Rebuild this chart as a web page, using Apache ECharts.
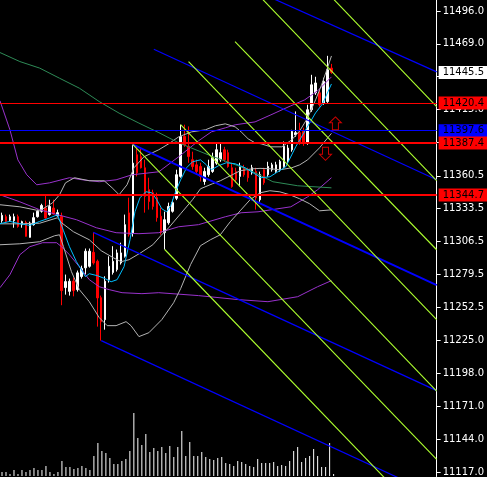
<!DOCTYPE html>
<html><head><meta charset="utf-8">
<script src="https://cdn.jsdelivr.net/npm/echarts@6/dist/echarts.min.js"></script>
<style>html,body{margin:0;padding:0;background:#000;overflow:hidden}#c{width:487px;height:477px}</style>
</head><body><div id="c"></div>
<script>
// ---- data ----
const barCount = 110; // slots on the time axis (incl. right shift)
const categories = Array.from({length: barCount}, (_, i) => String(i));

const opens=[11323.6,11326.9,11324.0,11323.6,11326.9,11320.3,11322.2,11309.9,11320.3,11326.9,
11331.3,11334.0,11328.6,11334.0,11327.7,11327.2,11268.6,11265.5,11273.8,11266.9,
11277.7,11284.8,11286.1,11297.6,11290.2,11260.3,11242.2,11275.2,11281.0,11283.4,
11288.9,11294.3,11330.0,11313.5,11377.8,11376.4,11367.1,11349.1,11346.6,11342.5,
11327.2,11313.8,11321.9,11331.3,11342.0,11360.0,11392.8,11384.7,11373.7,11369.5,
11368.1,11355.8,11361.4,11364.1,11370.9,11373.7,11381.9,11379.5,11367.1,11364.1,
11360.0,11367.1,11365.5,11362.9,11364.1,11340.8,11365.5,11361.4,11365.5,11364.1,
11365.5,11368.1,11372.3,11381.9,11394.2,11395.9,11396.9,11387.4,11414.8,11428.7,
11428.7,11420.3,11421.5,11449.0];
const closes=[11328.0,11323.0,11326.9,11326.9,11318.9,11322.8,11310.7,11321.7,11326.1,11331.3,
11336.1,11325.8,11335.3,11329.1,11330.2,11266.1,11273.5,11273.8,11266.1,11280.7,
11284.3,11298.5,11298.5,11288.9,11260.1,11240.6,11273.8,11286.1,11290.2,11297.1,
11297.1,11320.3,11312.1,11370.9,11362.9,11367.1,11343.6,11339.4,11335.3,11326.1,
11313.8,11324.4,11335.3,11338.4,11361.4,11392.8,11386.0,11376.4,11368.1,11364.1,
11360.0,11364.1,11368.1,11375.3,11381.9,11379.5,11373.7,11368.1,11351.7,11357.3,
11368.1,11361.4,11358.9,11367.1,11342.2,11361.4,11354.8,11368.1,11369.5,11369.5,
11372.3,11384.7,11383.3,11396.9,11395.9,11387.4,11387.4,11414.8,11435.3,11436.8,
11418.9,11438.0,11447.6,11445.5];
const highs=[11330.2,11328.6,11328.6,11329.4,11328.6,11323.6,11323.6,11322.8,11330.2,11332.7,
11337.5,11345.0,11340.8,11340.8,11332.7,11330.2,11279.3,11276.0,11276.8,11282.6,
11286.6,11300.7,11300.7,11314.0,11291.6,11262.0,11277.9,11294.3,11302.6,11299.9,
11305.5,11328.6,11342.5,11386.1,11383.6,11383.6,11373.7,11358.9,11349.1,11346.6,
11334.3,11331.0,11338.4,11340.8,11365.5,11402.5,11402.5,11401.1,11380.3,11373.7,
11371.2,11367.1,11373.7,11379.5,11387.6,11387.6,11384.3,11381.9,11371.2,11367.1,
11371.2,11369.5,11367.1,11369.5,11367.1,11363.9,11367.1,11372.0,11371.2,11372.0,
11373.7,11388.7,11386.0,11398.3,11413.4,11404.1,11400.0,11418.9,11443.5,11441.9,
11431.2,11441.1,11459.1,11452.5];
const lows=[11321.9,11321.9,11322.8,11317.8,11317.8,11317.8,11310.5,11309.7,11319.5,11326.1,
11330.2,11325.3,11327.7,11328.6,11326.9,11254.1,11262.8,11262.0,11261.4,11265.3,
11276.0,11279.3,11285.0,11287.5,11236.5,11225.0,11234.0,11272.7,11279.3,11281.8,
11287.5,11293.3,11310.5,11310.5,11360.0,11366.5,11330.2,11332.7,11332.7,11322.8,
11312.1,11299.9,11320.3,11330.2,11340.5,11358.9,11384.3,11371.2,11365.5,11361.4,
11355.8,11353.1,11359.7,11362.9,11369.5,11372.0,11372.0,11367.1,11350.7,11354.8,
11351.7,11359.7,11355.6,11361.4,11332.7,11339.2,11353.1,11359.7,11363.9,11362.9,
11363.9,11367.1,11371.2,11380.3,11392.6,11386.0,11385.1,11386.0,11413.1,11427.0,
11417.3,11418.9,11420.4,11444.3];
const volumes=[40,40,20,60,20,60,40,60,80,60,60,100,40,20,40,150,90,90,70,80,
100,80,60,200,330,250,230,180,120,120,150,170,250,630,380,310,420,240,280,250,
290,230,300,190,290,450,200,340,200,200,240,190,170,160,180,190,130,120,100,150,
140,120,100,90,170,130,130,130,140,100,110,100,150,250,290,140,180,200,270,200,
90,90,330,20];

// indicator lines: [bar index, price]
const maGreen=[[-0.5,11461.8],[4.5,11454.4],[9.5,11449.0],[14.5,11440.7],[19.5,11432.5],[24.5,11421.5],[29.5,11412.0],[34.5,11403.8],[39.5,11396.0],[44.5,11387.6],[52,11377.7],[59.5,11368.7],[63.25,11363.8],[68.25,11355.6],[74.5,11352.3],[83,11350.6]];
const maCyan=[[-0.5,11321.1],[2,11323.0],[4.5,11321.1],[7,11319.7],[9.5,11323.0],[12,11325.8],[14,11328.5],[15.5,11315.3],[17,11302.2],[18.75,11289.9],[20,11283.3],[21,11277.6],[22,11280.0],[24,11278.4],[26,11275.9],[27.5,11273.4],[29,11275.1],[30.75,11285.8],[32.25,11307.9],[33.5,11330.9],[34.75,11342.4],[36.25,11347.4],[37.75,11346.5],[39,11340.8],[40.25,11333.4],[41.5,11330.9],[42.5,11335.9],[43.75,11347.4],[45,11357.2],[46.5,11367.1],[48,11372.0],[50,11373.6],[51.5,11369.5],[52.75,11365.4],[54.5,11368.7],[56.5,11371.2],[58.75,11370.4],[61.25,11367.1],[63.25,11363.0],[65.25,11358.9],[67.5,11359.7],[69.5,11363.8],[71.5,11367.9],[74,11384.3],[76.5,11398.3],[79,11412.2],[80.75,11419.6],[83,11436.0]];
const bbUpper=[[-0.5,11336.7],[4.5,11335.0],[9.5,11331.7],[12.75,11338.3],[14.5,11344.9],[16,11354.7],[18.25,11358.9],[22,11356.4],[25.75,11356.4],[27.75,11350.6],[29.5,11344.9],[31.5,11353.1],[33.25,11367.1],[35.75,11376.1],[39.5,11381.9],[42,11386.8],[44.5,11392.5],[47.75,11396.6],[51.25,11398.3],[53.75,11401.6],[56.25,11403.2],[58.75,11400.7],[60.25,11396.6],[62,11390.9],[63.75,11387.6],[65.25,11386.8],[67.75,11384.3],[70.5,11384.3],[73,11390.1],[75,11397.4],[77,11408.1],[79,11422.9],[80.5,11435.2],[82,11449.2],[83,11459.0]];
const bbMiddle=[[-0.5,11321.0],[4.5,11321.0],[9.5,11321.5],[14,11326.0],[15,11321.9],[18,11314.5],[22,11307.9],[25,11298.9],[28,11293.2],[30,11289.9],[32,11291.5],[35,11297.3],[38,11303.8],[40,11311.2],[42,11317.8],[45,11329.3],[48,11340.8],[50,11349.8],[53,11353.9],[55,11356.4],[58,11361.3],[60,11364.6],[63,11366.2],[65,11366.6],[68,11366.2],[70,11365.4],[73,11367.1],[75,11369.5],[77,11373.6],[80,11383.5],[83,11395.4]];
const bbLower=[[-0.5,11303.8],[4.5,11304.6],[9.5,11306.3],[13.25,11311.2],[14.5,11312.0],[15.5,11302.2],[17.5,11281.7],[19.5,11266.9],[22,11257.0],[24.5,11243.9],[26.5,11237.3],[28.75,11237.3],[31.25,11240.6],[32.5,11237.3],[34.5,11228.3],[37,11231.5],[40.25,11242.2],[43.25,11256.2],[45,11267.7],[47.5,11287.4],[50,11303.0],[52.5,11307.9],[55,11312.0],[57.5,11322.7],[60,11331.7],[62.5,11340.8],[65,11346.5],[67.5,11348.2],[70,11347.3],[72.5,11344.9],[75,11341.6],[77.5,11337.5],[80,11331.7],[83,11332.5]];
const bb2Upper=[[-0.5,11422.1],[2,11398.3],[4,11373.6],[6.25,11361.3],[8.75,11353.1],[12,11354.7],[17,11358.9],[20.25,11357.2],[24.5,11355.6],[28.75,11357.2],[32.75,11361.3],[39.5,11363.8],[44.5,11376.1],[49.5,11389.2],[52.75,11396.6],[56.25,11399.9],[58.75,11402.4],[63.75,11404.8],[67.75,11410.6],[72.75,11418.0],[76.25,11422.9],[79.5,11430.3],[83,11441.8]];
const bb2Middle=[[-0.5,11344.9],[4.5,11339.1],[9.5,11332.6],[14,11328.5],[18.75,11324.4],[23.75,11317.8],[28.75,11313.7],[34.5,11312.9],[39.5,11313.7],[44.5,11318.6],[49.5,11320.3],[56.25,11326.8],[60.25,11330.1],[64.5,11330.9],[72.75,11335.0],[77,11343.2],[79.5,11349.0],[83,11358.9]];
const bb2Lower=[[-0.5,11268.5],[2,11279.2],[4.5,11295.6],[7,11302.2],[10.25,11305.5],[13.75,11305.5],[15,11302.2],[17,11295.6],[19.5,11285.7],[22,11275.1],[24.5,11269.3],[27,11266.9],[30.25,11264.4],[35.25,11263.6],[39.5,11264.4],[49.5,11262.0],[59.5,11258.7],[67,11257.0],[74.5,11261.1],[79.5,11269.3],[83,11274.3]];

// drawn objects: trend lines as [bar index, price] end points
const blueLines=[
  [[65,11511.0],[109.5,11445.9]],
  [[38.25,11464.5],[109.5,11357.2]],
  [[33,11386.1],[109.5,11270.6]],
  [[23,11314.0],[109.5,11183.9]],
  [[25,11225.0],[109.5,11097.7]]
];
const blueWidths=[1,1,2,1,1];
const greenLines=[
  [[60,11524.8],[109.5,11356.5]],
  [[80,11517.7],[109.5,11417.4]],
  [[58.7,11470.8],[109.5,11299.7]],
  [[47,11454.4],[109.5,11242.2]],
  [[45,11402.5],[109.5,11183.4]],
  [[33,11386.1],[109.5,11127.3]],
  [[41,11299.9],[109.5,11067.7]]
];
const hLevels=[11420.4,11397.6,11387.4,11344.7];
const hColors=['#ff0000','#0000ff','#ff0000','#ff0000'];
const hWidths=[1,1,2,2];
const lastPrice=11445.5;
const arrowUp=[[84,11403.6]];
const arrowDown=[[81.5,11378.6]];
const tickLabels=['11117.0','11144.0','11171.0','11198.0','11225.0','11252.5','11279.5','11306.5','11333.5','11360.5','11388.0','11415.0','11442.0','11469.0','11496.0'];
const priceMin=11113.3, priceMax=11505.0;

// ---- chart ----
const tickValues=tickLabels.map(Number);
const ohlc=opens.map((o,i)=>[o,closes[i],lows[i],highs[i]]);
const chart=echarts.init(document.getElementById('c'),null,{renderer:'canvas'});
function ln(data,color,width,z){
  return {type:'line',xAxisIndex:1,yAxisIndex:0,data:data,symbol:'none',silent:true,
    lineStyle:{color:color,width:width},z:z,animation:false};
}
function boxLabel(text,bg){
  return {show:true,position:'end',distance:2,formatter:text,backgroundColor:bg,color:'#000',
    fontFamily:'DejaVu Sans',fontSize:10,padding:[1,6,1,4],lineHeight:11};
}
const series=[
  {type:'candlestick',xAxisIndex:0,yAxisIndex:0,data:ohlc,barWidth:2,z:2,silent:true,
   itemStyle:{color:'#ffffff',color0:'#ff0000',borderColor:'#ffffff',borderColor0:'#ff0000',borderWidth:1},
   markLine:{symbol:'none',silent:true,animation:false,
     data:hLevels.map((v,i)=>({yAxis:v,lineStyle:{color:hColors[i],width:hWidths[i],type:'solid'},
       label:boxLabel(v.toFixed(1),hColors[i])})).concat([
       {yAxis:lastPrice,lineStyle:{color:'rgba(0,0,0,0)',width:1,type:'solid'},
        label:boxLabel(lastPrice.toFixed(1),'#ffffff')}])}},
  {type:'bar',xAxisIndex:2,yAxisIndex:1,data:volumes,barWidth:1,itemStyle:{color:'#ffffff'},silent:true,z:2},
  ln(bb2Upper,'#9932cc',1,3), ln(bb2Middle,'#9932cc',1,3), ln(bb2Lower,'#9932cc',1,3),
  ln(bbUpper,'#b4b4b4',1,3), ln(bbMiddle,'#b4b4b4',1,3), ln(bbLower,'#b4b4b4',1,3),
  ln(maGreen,'#2e8b57',1,3), ln(maCyan,'#00bfff',1,3)
];
blueLines.forEach((d,i)=>series.push(ln(d,'#0000ff',blueWidths[i]===2?2:1.2,4)));
greenLines.forEach(d=>series.push(ln(d,'#adff2f',1.1,4)));
const arrowStyle={color:'rgba(0,0,0,0)',borderColor:'#ff0000',borderWidth:1};
series.push({type:'scatter',xAxisIndex:1,yAxisIndex:0,data:arrowUp,symbol:'path://M6,0 L12,6 L9,6 L9,13 L3,13 L3,6 L0,6 Z',symbolSize:[12,13],itemStyle:arrowStyle,z:5,silent:true});
series.push({type:'scatter',xAxisIndex:1,yAxisIndex:0,data:arrowDown,symbol:'path://M3,0 L9,0 L9,7 L12,7 L6,13 L0,7 L3,7 Z',symbolSize:[12,13],itemStyle:arrowStyle,z:5,silent:true});

const hidden={show:false,axisLine:{show:false,onZero:false},axisTick:{show:false},axisLabel:{show:false},splitLine:{show:false}};
chart.setOption({
  backgroundColor:'#000000',
  animation:false,
  grid:[{left:-0.5,right:47.5,top:0,bottom:0},{left:-0.5,right:47.5,top:377,bottom:1}],
  xAxis:[
    Object.assign({type:'category',gridIndex:0,data:categories,boundaryGap:true},hidden),
    Object.assign({type:'value',gridIndex:0,min:-0.5,max:barCount-0.5},hidden),
    Object.assign({type:'category',gridIndex:1,data:categories,boundaryGap:true},hidden)
  ],
  yAxis:[
    {type:'value',gridIndex:0,position:'right',min:priceMin,max:priceMax,splitLine:{show:false},
     axisLine:{show:true,onZero:false,lineStyle:{color:'#ffffff',width:1}},
     axisTick:{show:true,length:4,inside:false,customValues:tickValues,lineStyle:{color:'#ffffff'}},
     axisLabel:{show:true,customValues:tickValues,color:'#ffffff',fontFamily:'DejaVu Sans',fontSize:10,margin:6,
       formatter:v=>Number(v).toFixed(1)}},
    Object.assign({type:'value',gridIndex:1,min:0,max:990},hidden)
  ],
  series:series
});
</script></body></html>
